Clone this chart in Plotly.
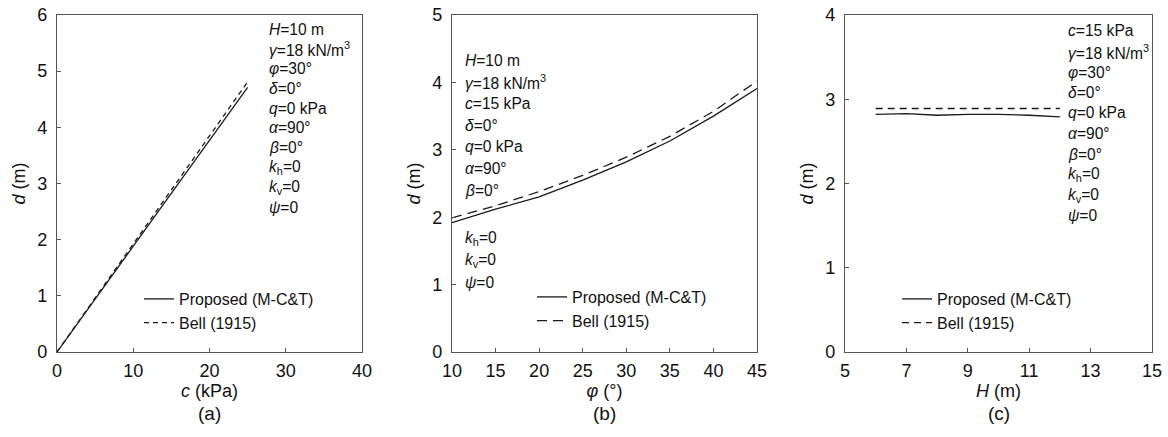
import plotly.graph_objects as go

# ---- data ----
c_vals = [0, 5, 10, 15, 20, 25]
d_prop_a = [0, 0.94, 1.88, 2.83, 3.77, 4.71]
d_bell_a = [0, 0.96, 1.92, 2.89, 3.85, 4.81]

phi_vals = [10, 15, 20, 25, 30, 35, 40, 45]
d_prop_b = [1.92, 2.12, 2.30, 2.55, 2.82, 3.13, 3.50, 3.91]
d_bell_b = [1.99, 2.17, 2.38, 2.62, 2.89, 3.20, 3.57, 4.02]

H_vals = [6, 7, 8, 9, 10, 11, 12]
d_prop_c = [2.82, 2.83, 2.81, 2.82, 2.82, 2.81, 2.79]
d_bell_c = [2.89, 2.89, 2.89, 2.89, 2.89, 2.89, 2.89]

series_names = ["Proposed (M-C&T)", "Bell (1915)"]

params_a = ["<i>H</i>=10 m", "<i>γ</i>=18 kN/m<sup>3</sup>", "<i>φ</i>=30°", "<i>δ</i>=0°",
            "<i>q</i>=0 kPa", "<i>α</i>=90°", "<i>β</i>=0°", "<i>k</i><sub>h</sub>=0",
            "<i>k</i><sub>v</sub>=0", "<i>ψ</i>=0"]
params_b = ["<i>H</i>=10 m", "<i>γ</i>=18 kN/m<sup>3</sup>", "<i>c</i>=15 kPa", "<i>δ</i>=0°",
            "<i>q</i>=0 kPa", "<i>α</i>=90°", "<i>β</i>=0°", "<i>k</i><sub>h</sub>=0",
            "<i>k</i><sub>v</sub>=0", "<i>ψ</i>=0"]
params_c = ["<i>c</i>=15 kPa", "<i>γ</i>=18 kN/m<sup>3</sup>", "<i>φ</i>=30°", "<i>δ</i>=0°",
            "<i>q</i>=0 kPa", "<i>α</i>=90°", "<i>β</i>=0°", "<i>k</i><sub>h</sub>=0",
            "<i>k</i><sub>v</sub>=0", "<i>ψ</i>=0"]

W, Hh = 1168, 437
FONT = "Arial, 'Liberation Sans', Helvetica, sans-serif"
LINEC = "#1a1a1a"
AXC = "#555555"

def px_x(p):
    return p / W

def px_y(p):
    return 1 - p / Hh

fig = go.Figure()

panels = [
    dict(x=c_vals, p=d_prop_a, b=d_bell_a, dash="5px,4px", leg="legend"),
    dict(x=phi_vals, p=d_prop_b, b=d_bell_b, dash="10px,6px", leg="legend2"),
    dict(x=H_vals, p=d_prop_c, b=d_bell_c, dash="7px,5px", leg="legend3"),
]
for i, pn in enumerate(panels):
    xa = "x" if i == 0 else f"x{i+1}"
    ya = "y" if i == 0 else f"y{i+1}"
    fig.add_trace(go.Scatter(x=pn["x"], y=pn["p"], mode="lines", name=series_names[0],
                             line=dict(color=LINEC, width=1.3), xaxis=xa, yaxis=ya,
                             legend=pn["leg"]))
    fig.add_trace(go.Scatter(x=pn["x"], y=pn["b"], mode="lines", name=series_names[1],
                             line=dict(color=LINEC, width=1.3, dash=pn["dash"]), xaxis=xa, yaxis=ya,
                             legend=pn["leg"]))

ydom = [px_y(352), px_y(15)]
xdoms = [[px_x(57), px_x(362)], [px_x(452), px_x(757)], [px_x(845), px_x(1152)]]

common_axis = dict(showline=True, linecolor=AXC, linewidth=1.3, mirror=True,
                   ticks="inside", ticklen=4, tickcolor=AXC, tickwidth=1.2,
                   showgrid=False, zeroline=False, automargin=False,
                   tickfont=dict(family=FONT, size=18, color="#111"),
                   title_font=dict(family=FONT, size=18, color="#111"))

xcfg = [
    dict(range=[0, 40], tickvals=[0, 10, 20, 30, 40], title_text="<i>c</i> (kPa)"),
    dict(range=[10, 45], tickvals=[10, 15, 20, 25, 30, 35, 40, 45], title_text="<i>φ</i> (°)"),
    dict(range=[5, 15], tickvals=[5, 7, 9, 11, 13, 15], title_text="<i>H</i> (m)"),
]
ycfg = [
    dict(range=[0, 6], tickvals=[0, 1, 2, 3, 4, 5, 6]),
    dict(range=[0, 5], tickvals=[0, 1, 2, 3, 4, 5]),
    dict(range=[0, 4], tickvals=[0, 1, 2, 3, 4]),
]

layout_axes = {}
for i in range(3):
    xk = "xaxis" if i == 0 else f"xaxis{i+1}"
    yk = "yaxis" if i == 0 else f"yaxis{i+1}"
    yname = "y" if i == 0 else f"y{i+1}"
    xname = "x" if i == 0 else f"x{i+1}"
    layout_axes[xk] = dict(common_axis, domain=xdoms[i], anchor=yname,
                           ticklabelstandoff=2, title_standoff=0, **xcfg[i])
    layout_axes[yk] = dict(common_axis, domain=ydom, anchor=xname,
                           ticklabelstandoff=5, title_standoff=6,
                           title_text="<i>d</i> (m)", **ycfg[i])

annotations = []
def add_params(lines, x_px, ys_px):
    for t, yy in zip(lines, ys_px):
        annotations.append(dict(text=t, x=px_x(x_px), y=px_y(yy), xref="paper", yref="paper",
                                xanchor="left", yanchor="middle", showarrow=False,
                                font=dict(family=FONT, size=15.6, color="#111")))

ys_a = [29 + 19.8 * k for k in range(10)]
add_params(params_a, 267, ys_a)
ys_b = [60 + 21.7 * k for k in range(7)] + [238, 260, 282]
add_params(params_b, 463, ys_b)
ys_c = [31 + 20.5 * k for k in range(10)]
add_params(params_c, 1066, ys_c)

for lab, xc in zip(["(a)", "(b)", "(c)"], [(57 + 362) / 2, (452 + 757) / 2, (845 + 1152) / 2]):
    annotations.append(dict(text=lab, x=px_x(xc), y=px_y(413), xref="paper", yref="paper",
                            xanchor="center", yanchor="middle", showarrow=False,
                            font=dict(family=FONT, size=19, color="#111")))

legend_common = dict(bgcolor="rgba(0,0,0,0)", borderwidth=0, xanchor="left", yanchor="top",
                     font=dict(family=FONT, size=16, color="#111"), tracegroupgap=0,
                     itemwidth=30)

fig.update_layout(
    width=W, height=Hh,
    margin=dict(l=0, r=0, t=0, b=0),
    paper_bgcolor="white", plot_bgcolor="white",
    showlegend=True,
    legend=dict(legend_common, x=px_x(139), y=px_y(282)),
    legend2=dict(legend_common, x=px_x(532), y=px_y(280)),
    legend3=dict(legend_common, x=px_x(897), y=px_y(282)),
    annotations=annotations,
    **layout_axes,
)

fig.write_html("out.html", config={"displayModeBar": False},
               post_script="document.body.style.margin='0';document.body.style.overflow='hidden';")
